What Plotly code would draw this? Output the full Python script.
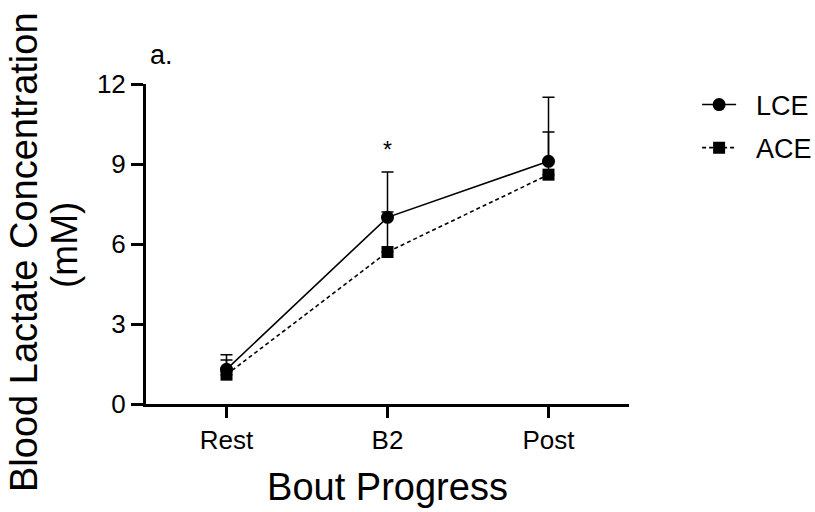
import plotly.graph_objects as go

categories = ["Rest", "B2", "Post"]
lce_mean = [1.3, 7.0, 9.1]
lce_err = [0.55, 1.7, 2.4]
ace_mean = [1.1, 5.7, 8.6]
ace_err = [0.55, 1.5, 1.6]
y_ticks = [0, 3, 6, 9, 12]

fig = go.Figure()
fig.add_trace(go.Scatter(
    x=categories, y=lce_mean, name="\u00a0\u00a0LCE", mode="lines+markers",
    line=dict(color="black", width=1.6),
    marker=dict(symbol="circle", size=13, color="black"),
    error_y=dict(type="data", array=lce_err, arrayminus=[0]*3, symmetric=False,
                 color="black", thickness=1.5, width=6),
    legendgroup="a",
))
fig.add_trace(go.Scatter(
    x=categories, y=ace_mean, name="\u00a0\u00a0ACE", mode="lines+markers",
    line=dict(color="black", width=1.6, dash="4px,3px"),
    marker=dict(symbol="square", size=12, color="black"),
    error_y=dict(type="data", array=ace_err, arrayminus=[0]*3, symmetric=False,
                 color="black", thickness=1.5, width=6),
    legendgroup="b",
))

fig.add_annotation(x="B2", y=8.7, yshift=22, text="*", showarrow=False,
                   font=dict(size=23, color="black", family="Arial"))
fig.add_annotation(xref="paper", yref="paper", x=0.004, y=1.0, xanchor="left", yanchor="bottom",
                   yshift=12, text="a.", showarrow=False,
                   font=dict(size=27, color="black", family="Arial"))

# y-axis title as two rotated lines
fig.add_annotation(xref="paper", yref="paper", x=-146/483, y=0.5, xshift=24, yshift=-8,
                   xanchor="center", yanchor="middle", textangle=-90,
                   text="Blood Lactate Concentration", showarrow=False,
                   font=dict(size=38, color="black", family="Arial"))
fig.add_annotation(xref="paper", yref="paper", x=-146/483, y=0.5, xshift=64, yshift=-1,
                   xanchor="center", yanchor="middle", textangle=-90,
                   text="(mM)", showarrow=False,
                   font=dict(size=37, color="black", family="Arial"))

fig.update_layout(
    width=815, height=512,
    margin=dict(l=146, r=186, t=84, b=108, autoexpand=False),
    plot_bgcolor="white", paper_bgcolor="white",
    font=dict(family="Arial", color="black", size=26),
    legend=dict(x=1.141, y=1.011, xanchor="left", yanchor="top", font=dict(size=27),
                tracegroupgap=5, itemwidth=34, bgcolor="rgba(0,0,0,0)"),
    xaxis=dict(
        range=[-0.5, 2.5], showline=True, linecolor="black", linewidth=3,
        ticks="outside", ticklen=11, tickwidth=3, tickcolor="black",
        showgrid=False, zeroline=False,
        title=dict(text="Bout Progress", font=dict(size=38), standoff=20),
        tickfont=dict(size=26),
    ),
    yaxis=dict(
        range=[0, 12], tickvals=y_ticks, showline=True, linecolor="black", linewidth=3,
        ticks="outside", ticklen=12, tickwidth=3, tickcolor="black",
        showgrid=False, zeroline=False,
        tickfont=dict(size=26),
    ),
)

fig.write_html("out.html")
